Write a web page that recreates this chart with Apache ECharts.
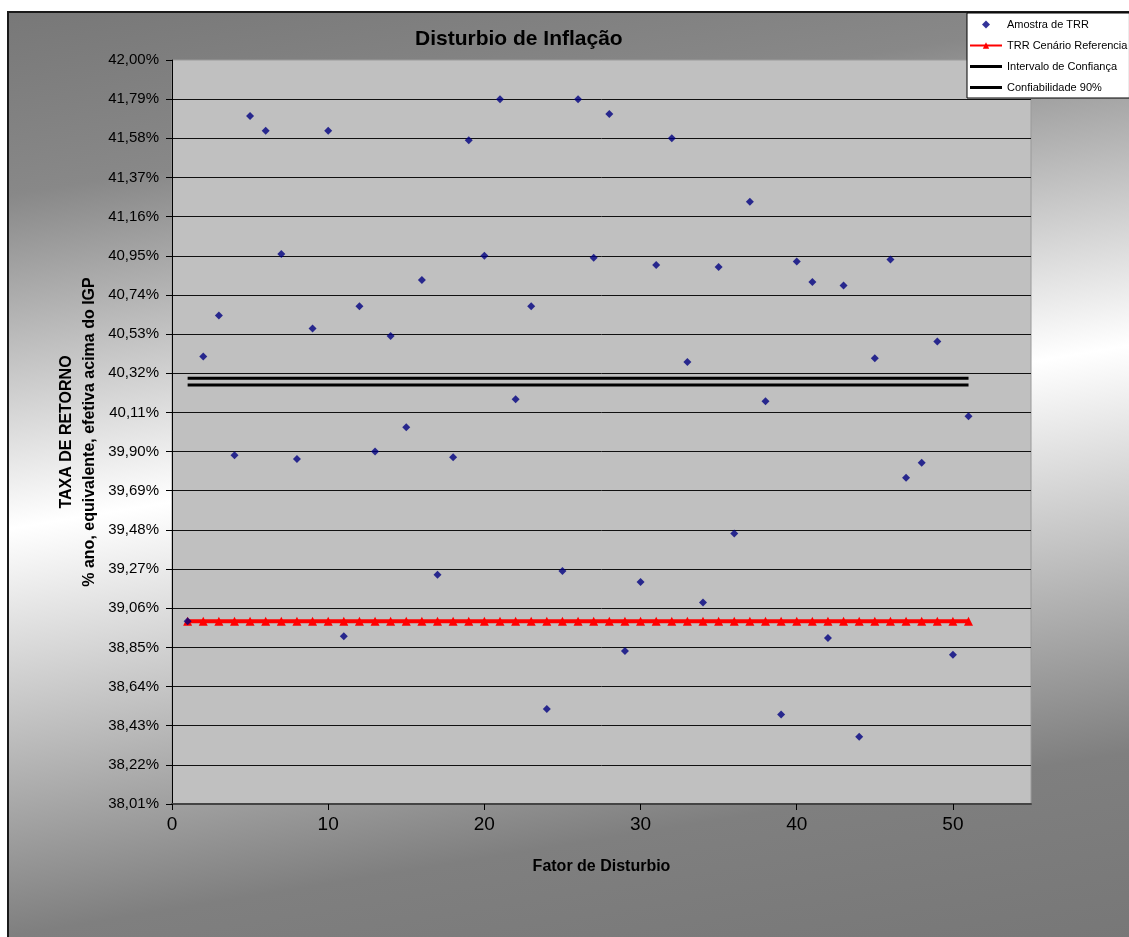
<!DOCTYPE html>
<html><head><meta charset="utf-8">
<script src="https://cdn.jsdelivr.net/npm/echarts@6/dist/echarts.min.js"></script>
<style>html,body{margin:0;padding:0;background:#fff}#c{width:1129px;height:937px}</style>
</head><body><div id="c"></div>
<script>
// ---- data ----
const fatores = [1,2,3,4,5,6,7,8,9,10,11,12,13,14,15,16,17,18,19,20,21,22,23,24,25,26,27,28,29,30,31,32,33,34,35,36,37,38,39,40,41,42,43,44,45,46,47,48,49,50,51];
const amostraTRR = [38.99,40.41,40.63,39.88,41.70,41.62,40.96,39.86,40.56,41.62,
  38.91,40.68,39.90,40.52,40.03,40.82,39.24,39.87,41.57,40.95,
  41.79,40.18,40.68,38.52,39.26,41.79,40.94,41.71,38.83,39.20,
  40.90,41.58,40.38,39.09,40.89,39.46,41.24,40.17,38.49,40.92,
  40.81,38.90,40.79,38.37,40.40,40.93,39.76,39.84,40.49,38.81,40.09];
const referenciaTRR = 38.99;
const intervaloConfianca = 40.293;
const confiabilidade90 = 40.257;
const xTickLabels = [0,10,20,30,40,50];
const yMin = 38.01, yMax = 42.00, yStep = 0.21;

const S = 100; // axis works in hundredths of a percent
const FONT = "'Liberation Sans', Arial, sans-serif";
const fmtY = v => (v / S).toFixed(2).replace('.', ',') + '%';
const flat = (lvl) => fatores.map(f => [f, lvl * S]);

const chart = echarts.init(document.getElementById('c'), null, {renderer: 'canvas'});
const bgGrad = new echarts.graphic.LinearGradient(484, -75, 663, 1020, [
  {offset: 0, color: '#777777'},
  {offset: 0.171, color: '#888888'},
  {offset: 0.468, color: '#ffffff'},
  {offset: 0.83, color: '#7f7f7f'},
  {offset: 1, color: '#777777'}
], true);

const lineIcon = 'path://M0,0H32V3H0Z';
const diamondIcon = 'path://M0,4L0,4M16,0L20,4L16,8L12,4ZM32,4L32,4';

chart.setOption({
  backgroundColor: '#ffffff',
  animation: false,
  textStyle: {fontFamily: FONT, color: '#000'},
  graphic: [
    {type: 'rect', z: -100, shape: {x: 8, y: 12, width: 1125, height: 930}, style: {fill: bgGrad}},
    {type: 'polyline', z: -99, shape: {points: [[8, 937], [8, 12], [1129, 12]]}, style: {stroke: '#1a1a1a', lineWidth: 2, fill: null}}
  ],
  title: {
    text: 'Disturbio de Inflação', left: 410, top: 24,
    textStyle: {fontFamily: FONT, fontSize: 21, fontWeight: 'bold', color: '#000'}
  },
  legend: {
    orient: 'vertical', left: 967, top: 13,
    padding: [6, 2, 5, 2], itemGap: 10, itemWidth: 32, itemHeight: 8,
    symbolKeepAspect: true,
    backgroundColor: '#ffffff', borderColor: '#000', borderWidth: 1, borderRadius: 0,
    textStyle: {fontFamily: FONT, fontSize: 11, color: '#000'},
    data: [
      {name: 'Amostra de TRR', icon: diamondIcon},
      {name: 'TRR Cenário Referencia'},
      {name: 'Intervalo de Confiança', icon: lineIcon},
      {name: 'Confiabilidade 90%', icon: lineIcon}
    ]
  },
  grid: {
    left: 172, right: 98, top: 60, bottom: 133, show: true,
    backgroundColor: '#c0c0c0', borderColor: '#9a9a9a', borderWidth: 1
  },
  xAxis: {
    type: 'value', min: 0, max: 55, interval: 10,
    name: 'Fator de Disturbio', nameLocation: 'middle', nameGap: 55, nameMoveOverlap: false,
    nameTextStyle: {fontFamily: FONT, fontSize: 16, fontWeight: 'bold', color: '#000'},
    axisLine: {onZero: false, lineStyle: {color: '#444', width: 2}},
    axisTick: {show: true, length: 6, lineStyle: {color: '#000'}, customValues: xTickLabels},
    axisLabel: {fontFamily: FONT, fontSize: 19, color: '#000', margin: 11, customValues: xTickLabels},
    splitLine: {show: false}
  },
  yAxis: {
    type: 'value', min: Math.round(yMin * S), max: Math.round(yMax * S), interval: Math.round(yStep * S),
    name: 'TAXA DE RETORNO\n% ano, equivalente, efetiva acima do IGP',
    nameLocation: 'middle', nameRotate: 90, nameGap: 71, nameMoveOverlap: false,
    nameTextStyle: {fontFamily: FONT, fontSize: 16, fontWeight: 'bold', color: '#000', lineHeight: 23, align: 'center'},
    axisLine: {show: true, lineStyle: {color: '#000', width: 1}},
    axisTick: {show: true, length: 6, lineStyle: {color: '#000'}},
    axisLabel: {fontFamily: FONT, fontSize: 15, color: '#000', margin: 13, formatter: fmtY},
    splitLine: {show: true, showMaxLine: false, showMinLine: false, lineStyle: {color: '#111', width: 1}}
  },
  series: [
    {
      name: 'Intervalo de Confiança', type: 'line', data: flat(intervaloConfianca),
      showSymbol: false, symbol: 'none', lineStyle: {color: '#000', width: 3}, itemStyle: {color: '#000'}, z: 3
    },
    {
      name: 'Confiabilidade 90%', type: 'line', data: flat(confiabilidade90),
      showSymbol: false, symbol: 'none', lineStyle: {color: '#000', width: 3}, itemStyle: {color: '#000'}, z: 3
    },
    {
      name: 'TRR Cenário Referencia', type: 'line', data: flat(referenciaTRR),
      symbol: 'triangle', symbolSize: 9, lineStyle: {color: '#ff0000', width: 4},
      itemStyle: {color: '#ff0000'}, z: 4
    },
    {
      name: 'Amostra de TRR', type: 'scatter', data: fatores.map((f, i) => [f, amostraTRR[i] * S]),
      symbol: 'diamond', symbolSize: 8, itemStyle: {color: '#000080'}, z: 5
    }
  ]
});
</script></body></html>
